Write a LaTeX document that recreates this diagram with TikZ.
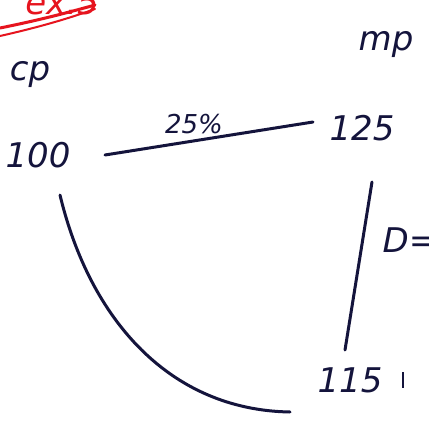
\documentclass[tikz,border=0pt]{standalone}
\usepackage{fontspec}
\setmainfont{DejaVu Sans}
\definecolor{ink}{RGB}{20,20,60}
\definecolor{redink}{RGB}{230,20,30}
\begin{document}
\begin{tikzpicture}[x=1pt,y=-1pt,
  hand/.style={font=\fontsize{34}{34}\selectfont\itshape, text=ink, inner sep=0pt},
  small/.style={font=\fontsize{26}{26}\selectfont\itshape, text=ink, inner sep=0pt},
  stroke/.style={draw=ink, line width=3pt, line cap=round}]
\useasboundingbox (0,0) rectangle (429,428);
\clip (0,0) rectangle (429,428);
\fill[white] (0,0) rectangle (429,428);
% red heading
\node[font=\fontsize{34}{34}\selectfont\itshape, text=redink, inner sep=0pt] (ex) at (62,2) {ex.5};
\draw[redink, line width=3pt, line cap=round] (0,28) .. controls (40,20) and (70,12) .. (95,5);
\draw[redink, line width=2pt, line cap=round] (0,36) .. controls (40,27) and (70,18) .. (95,9);
% labels
\node[hand] (cp) at (30,75) {cp};
\node[hand] (mp) at (386,45) {mp};
\node[hand] (a) at (38,155) {100};
\node[hand] (b) at (362,128) {125};
\node[small] (pct) at (194,124) {25\%};
\node[hand] (c) at (350,380) {115};
\node[hand] (d) at (410,240) {D=};
\coordinate (t1) at (403,372);
\coordinate (t2) at (403,388);
\draw[draw=ink, line width=1.5pt] (t1) -- (t2);
% connectors
\coordinate (a1) at (105,155);
\coordinate (b1) at (313,122);
\draw[stroke] (a1) -- (b1);
\coordinate (b2) at (372,182);
\coordinate (c1) at (345,350);
\draw[stroke] (b2) -- (c1);
\coordinate (a2) at (60,195);
\coordinate (c2) at (290,412);
\draw[stroke] (a2) .. controls (90,320) and (170,410) .. (c2);
\end{tikzpicture}
\end{document}
